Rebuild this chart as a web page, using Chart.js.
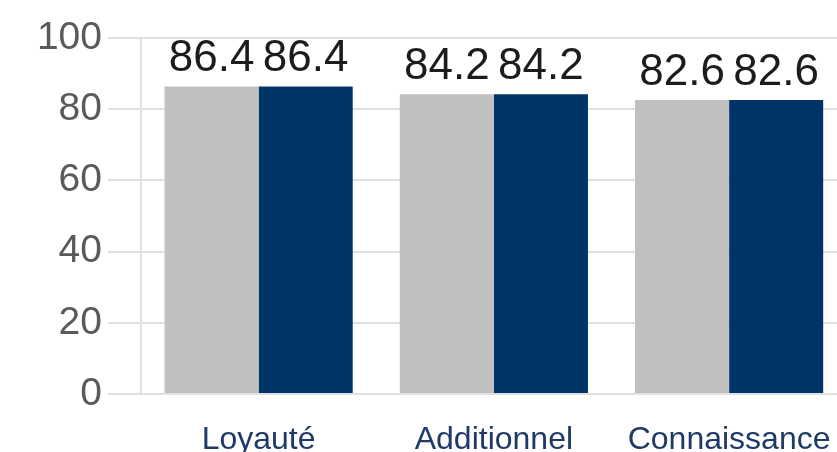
<!DOCTYPE html>
<html>
<head>
<meta charset="utf-8">
<script src="https://cdn.jsdelivr.net/npm/chart.js@4"></script>
<style>
  html, body { margin: 0; padding: 0; overflow: hidden; background: #fff; }
  .wrap { position: absolute; left: 0; top: 0; width: 858px; height: 460px; }
</style>
</head>
<body>
<div class="wrap"><canvas class="bars"></canvas></div>
<script>
//DATA..
const categories = ["Loyauté", "Additionnel", "Connaissance"];
const serieA = [86.4, 84.2, 82.6];
const serieB = [86.4, 84.2, 82.6];
const yTicks = [0, 20, 40, 60, 80, 100];

const FONT = "'Liberation Sans', Arial, Helvetica, sans-serif";

//value labels above the bars
const barLabels = {
  id: "barLabels",
  afterDatasetsDraw(chart) {
    const ctx = chart.ctx;
    ctx.save();
    ctx.font = "44px " + FONT;
    ctx.fillStyle = "#1c1c1c";
    ctx.textAlign = "center";
    ctx.textBaseline = "alphabetic";
    chart.data.datasets.forEach((ds, i) => {
      chart.getDatasetMeta(i).data.forEach((bar, j) => {
        ctx.fillText(ds.data[j].toFixed(1), bar.x, bar.y - 15);
      });
    });
    ctx.restore();
  }
};

const barChart = document.querySelector(".bars");

new Chart(barChart, {
  type: "bar",
  data: {
    labels: categories,
    datasets: [
      {
        label: "Série 1",
        data: serieA,
        backgroundColor: "#c0c0c0",
        categoryPercentage: 0.8,
        barPercentage: 1
      },
      {
        label: "Série 2",
        data: serieB,
        backgroundColor: "#003466",
        categoryPercentage: 0.8,
        barPercentage: 1
      }
    ]
  },
  options: {
    responsive: true,
    maintainAspectRatio: false,
    animation: false,
    layout: { padding: { top: 38, right: 3, left: 0, bottom: 0 } },
    plugins: {
      legend: { display: false },
      tooltip: { enabled: false }
    },
    scales: {
      x: {
        grid: { display: false, drawTicks: false },
        border: { display: false },
        ticks: {
          color: "#1f3a68",
          font: { family: FONT, size: 32 },
          padding: 27,
          maxRotation: 0
        },
        afterFit: (s) => { s.height = 66; }
      },
      y: {
        min: 0,
        max: 100,
        afterBuildTicks: (s) => { s.ticks = yTicks.map(v => ({ value: v })); },
        grid: { color: "#e0e0e0", lineWidth: 2, tickLength: 33 },
        border: { display: true, color: "#e0e0e0", width: 2 },
        ticks: {
          color: "#5a5a5a",
          font: { family: FONT, size: 39 },
          padding: 6
        },
        afterFit: (s) => { s.width = 141; }
      }
    }
  },
  plugins: [barLabels]
});
</script>
</body>
</html>
